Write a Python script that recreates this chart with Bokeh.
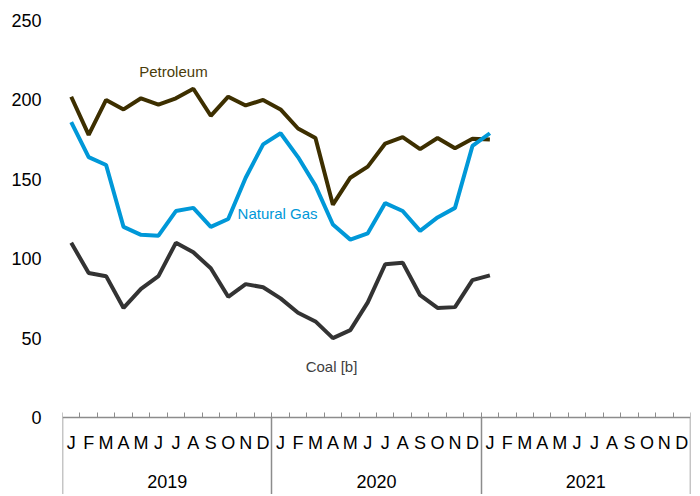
import numpy as np
from bokeh.plotting import figure
from bokeh.models import Range1d, FixedTicker, LinearAxis, CustomJSTickFormatter, Label
from bokeh.embed import file_html
from bokeh.resources import INLINE

# ---- data ----
month_letters = ["J", "F", "M", "A", "M", "J", "J", "A", "S", "O", "N", "D"]
year_labels = ["2019", "2020", "2021"]
y_ticks = [0, 50, 100, 150, 200, 250]

petroleum = [202, 178, 200, 194, 201, 197, 201, 207, 190, 202, 196.5, 200,
             194, 182, 176, 134, 151, 158, 172.5, 176.5, 169, 176, 169.5, 175.5,
             175]
natural_gas = [186, 164, 159, 120, 115, 114.5, 130, 132, 120, 125, 151, 172,
               179, 164, 146, 121.5, 112, 116, 135, 130, 117.5, 126, 132, 171,
               179]
coal = [110, 91, 89, 69, 81, 89, 110, 104, 94, 76, 84, 82,
        75, 66, 60.5, 50, 55, 72.5, 96.5, 97.5, 77, 69, 69.5, 86.5,
        89.5]

n_months = len(month_letters) * len(year_labels)
x = np.arange(len(petroleum)) + 0.5  # month centres

PET = "#3d2f00"
GAS = "#0098d8"
COAL = "#333333"
GRAY = "#8c8c8c"
FONT = "Liberation Sans"

p = figure(width=692, height=494, output_backend="svg", toolbar_location=None,
           x_range=Range1d(0, n_months), y_range=Range1d(-48.5, 250),
           x_axis_location=None, min_border_left=62, min_border_right=2,
           min_border_top=20, min_border_bottom=0)
p.outline_line_color = None
p.grid.visible = False
p.background_fill_color = "white"

# y axis
p.yaxis.ticker = FixedTicker(ticks=y_ticks)
p.yaxis.axis_line_color = None
p.yaxis.major_tick_line_color = None
p.yaxis.minor_tick_line_color = None
p.yaxis.major_label_text_font = FONT
p.yaxis.major_label_text_font_size = "18px"
p.yaxis.major_label_text_color = "#000000"
p.yaxis.major_label_standoff = 15

# box axis: top line, month ticks, year separators
box_axis = LinearAxis(fixed_location=0,
                      ticker=FixedTicker(ticks=[0, 12, 24, 36], minor_ticks=list(range(n_months + 1))),
                      major_label_overrides={0: "", 12: "", 24: "", 36: ""})
box_axis.axis_line_color = GRAY
box_axis.axis_line_width = 1.5
box_axis.major_tick_line_color = GRAY
box_axis.major_tick_line_width = 1.5
box_axis.major_tick_in = 0
box_axis.major_tick_out = 90
box_axis.minor_tick_line_color = GRAY
box_axis.minor_tick_line_width = 1
box_axis.minor_tick_in = 5
box_axis.minor_tick_out = 0
p.add_layout(box_axis, "below")

# month labels
month_axis = LinearAxis(fixed_location=0,
                        ticker=FixedTicker(ticks=list(np.arange(n_months) + 0.5)),
                        formatter=CustomJSTickFormatter(args=dict(labels=month_letters),
                                                        code="return labels[Math.floor(tick) % 12];"))
month_axis.axis_line_color = None
month_axis.major_tick_line_color = None
month_axis.minor_tick_line_color = None
month_axis.major_tick_in = 0
month_axis.major_tick_out = 0
month_axis.major_label_standoff = 16
month_axis.major_label_text_font = FONT
month_axis.major_label_text_font_size = "18px"
month_axis.major_label_text_color = "#000000"
p.add_layout(month_axis, "below")

# year labels
year_axis = LinearAxis(fixed_location=0,
                       ticker=FixedTicker(ticks=[6, 18, 30]),
                       formatter=CustomJSTickFormatter(args=dict(years=year_labels),
                                                       code="return years[Math.floor(tick / 12)];"))
year_axis.axis_line_color = None
year_axis.major_tick_line_color = None
year_axis.minor_tick_line_color = None
year_axis.major_tick_in = 0
year_axis.major_tick_out = 0
year_axis.major_label_standoff = 58
year_axis.major_label_text_font = FONT
year_axis.major_label_text_font_size = "18px"
year_axis.major_label_text_color = "#000000"
p.add_layout(year_axis, "below")

# series
p.line(x, petroleum, line_width=4, line_color=PET)
p.line(x, natural_gas, line_width=4, line_color=GAS)
p.line(x, coal, line_width=4, line_color=COAL)

# labels
p.add_layout(Label(x=6.36, y=218, text="Petroleum", text_align="center", text_baseline="middle",
                   text_font=FONT, text_font_size="15px", text_color="#4a3c0a"))
p.add_layout(Label(x=12.33, y=128.5, text="Natural Gas", text_align="center", text_baseline="middle",
                   text_font=FONT, text_font_size="15px", text_color=GAS))
p.add_layout(Label(x=15.42, y=32, text="Coal [b]", text_align="center", text_baseline="middle",
                   text_font=FONT, text_font_size="15px", text_color="#404040"))

open("out.html", "w").write(file_html(p, INLINE))
